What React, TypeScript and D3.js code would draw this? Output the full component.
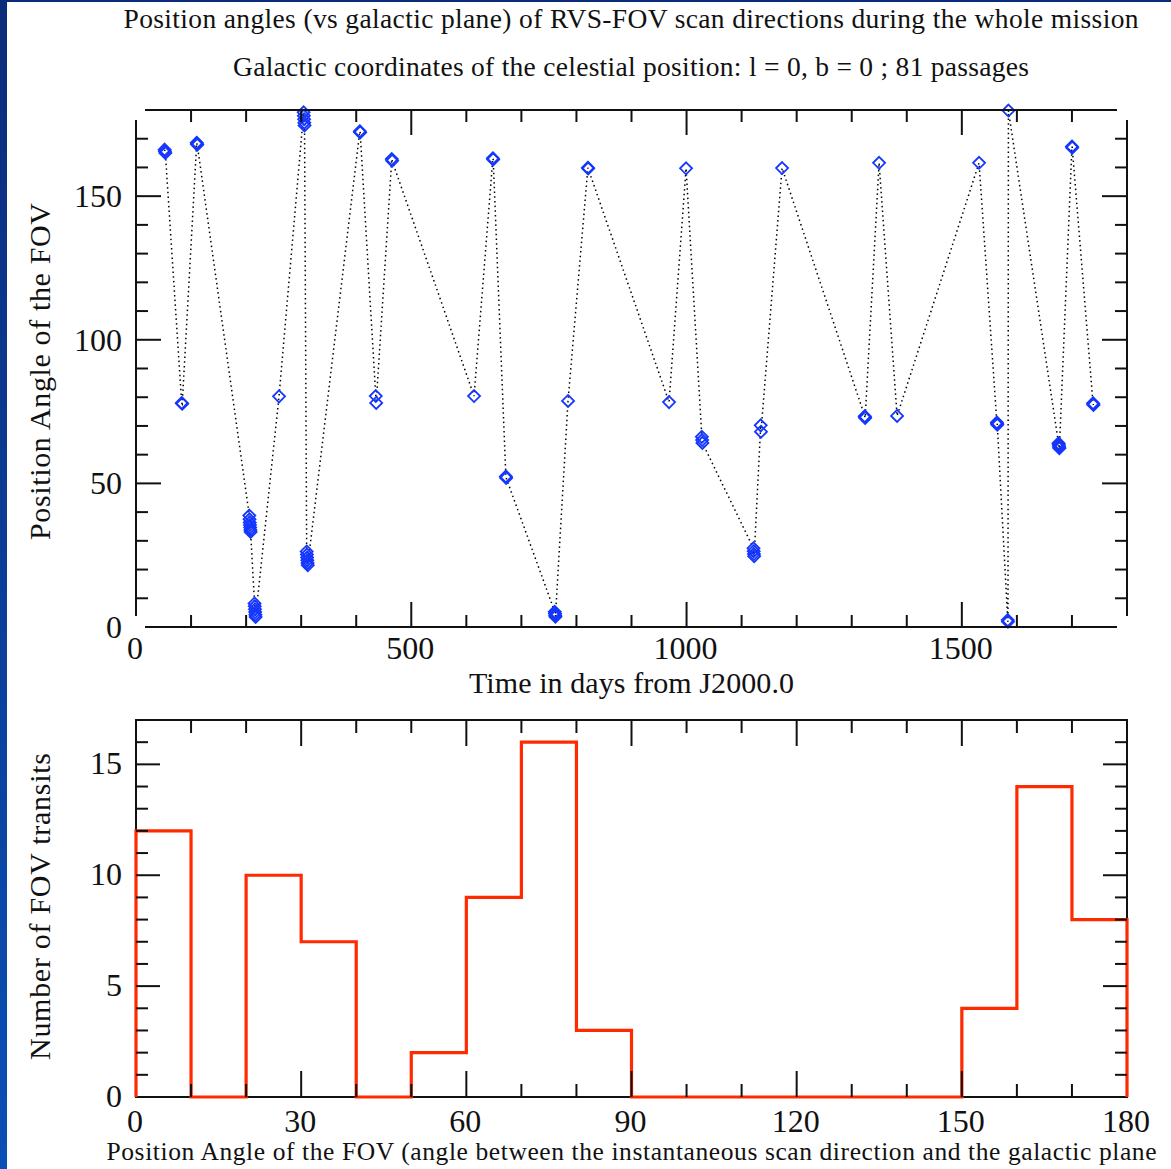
import React from "react";
import * as d3 from "d3";

// passages: time in days from J2000.0 and position angle of the FOV (deg)
const passageDays = [
  52.0, 52.5, 53.3, 83.0, 84.0, 110.3, 110.8, 111.3,
  205.8, 206.2, 206.6, 207.0, 207.4, 207.8, 208.2,
  215.3, 215.7, 216.1, 216.5, 216.9, 217.3, 259.8,
  304.5, 304.9, 305.3, 305.7, 306.1,
  310.0, 310.4, 310.8, 311.2, 311.6, 312.0,
  406.5, 407.2, 435.5, 436.3, 464.6, 465.3, 614.0,
  648.2, 648.8, 671.8, 672.4, 760.6, 761.0, 761.4, 761.8,
  784.7, 820.8, 821.3, 968.2, 999.1, 1027.8, 1028.3, 1028.8,
  1121.6, 1122.0, 1122.4, 1122.8, 1134.7, 1135.2, 1173.5,
  1323.6, 1324.0, 1324.4, 1349.7, 1382.4, 1531.3,
  1563.6, 1564.0, 1564.4, 1583.4, 1583.8, 1584.6,
  1675.6, 1676.0, 1676.4, 1676.8, 1677.2, 1700.0, 1700.5,
  1738.3, 1738.7, 1739.1,
];
const passageAngles = [
  166.2, 165.6, 165.0, 78.0, 77.7, 168.6, 168.2, 167.9,
  38.8, 37.5, 36.4, 35.5, 34.6, 33.8, 33.1,
  8.2, 7.2, 6.2, 5.2, 4.3, 3.5, 80.3,
  179.2, 178.0, 176.8, 175.6, 174.6,
  26.3, 25.2, 24.2, 23.2, 22.3, 21.5,
  172.6, 172.2, 80.4, 78.0, 162.9, 162.3, 80.4,
  163.2, 162.8, 52.4, 51.9, 5.3, 4.7, 4.1, 3.6,
  78.7, 159.9, 159.6, 78.3, 159.7, 66.2, 65.1, 64.1,
  27.4, 26.4, 25.4, 24.6, 70.2, 68.0, 159.8,
  73.4, 73.1, 72.8, 161.6, 73.5, 161.6,
  71.2, 70.8, 70.4, 2.4, 1.8, 179.8,
  64.0, 63.5, 63.0, 62.6, 62.2, 167.3, 166.9,
  77.9, 77.6, 77.3,
];

// histogram of position angles, 10 deg bins
const histEdges = d3.range(0, 190, 10);
const histCounts = [12, 0, 10, 7, 0, 2, 9, 16, 3, 0, 0, 0, 0, 0, 0, 4, 14, 8];

const timeTickLabels = [0, 500, 1000, 1500];
const angleTickLabels = [0, 50, 100, 150];
const histXTickLabels = [0, 30, 60, 90, 120, 150, 180];
const histYTickLabels = [0, 5, 10, 15];

const W = 1171;
const H = 1169;
const FONT = "'Liberation Serif', 'DejaVu Serif', serif";
const INK = "#111";
const BLUE = "#1436ff";
const RED = "#ff2a00";

const left = 136;
const right = 1127;

const xTime = d3.scaleLinear().domain([0, 1800]).range([left, right]);
const yAngle = d3.scaleLinear().domain([0, 180]).range([627, 110]);
const xHist = d3.scaleLinear().domain([0, 180]).range([left, right]);
const yHist = d3.scaleLinear().domain([0, 17]).range([1097, 720]);

const diamond = (x: number, y: number, r: number) =>
  `M${x},${y - r}L${x + r},${y}L${x},${y + r}L${x - r},${y}Z`;

const TopChart = () => {
  const y0 = yAngle(0);
  const y1 = yAngle(180);
  const pts = passageDays.map((d, i) => [xTime(d), yAngle(passageAngles[i])] as [number, number]);
  const line = d3.line()(pts) || "";
  const xTicks = d3.range(100, 1800, 100);
  const yTicks = d3.range(10, 180, 10);
  return (
    <g>
      <path d={line} fill="none" stroke="#000" strokeWidth={1.5} strokeDasharray="1.5 3.2" />
      {pts.map((p, i) => (
        <path key={i} d={diamond(p[0], p[1], 6)} fill="none" stroke={BLUE} strokeWidth={1.8} />
      ))}
      <g stroke={INK} strokeWidth={2}>
        <line x1={left + 9} x2={right - 10} y1={y0} y2={y0} />
        <line x1={left + 9} x2={right - 10} y1={y1} y2={y1} />
        <line x1={left} x2={left} y1={y1 + 10} y2={y0 - 11} />
        <line x1={right} x2={right} y1={y1 + 10} y2={y0 - 11} />
        {xTicks.map((t) => {
          const len = t % 500 === 0 ? 25 : 12;
          return (
            <g key={t}>
              <line x1={xTime(t)} x2={xTime(t)} y1={y0} y2={y0 - len} />
              <line x1={xTime(t)} x2={xTime(t)} y1={y1} y2={y1 + len} />
            </g>
          );
        })}
        {yTicks.map((t) => {
          const len = t % 50 === 0 ? 25 : 12;
          return (
            <g key={t}>
              <line x1={left} x2={left + len} y1={yAngle(t)} y2={yAngle(t)} />
              <line x1={right} x2={right - len} y1={yAngle(t)} y2={yAngle(t)} />
            </g>
          );
        })}
      </g>
      <g fontFamily={FONT} fill={INK} fontSize={32}>
        {angleTickLabels.map((t) => (
          <text key={t} x={left - 14} y={yAngle(t) + 11} textAnchor="end">
            {t}
          </text>
        ))}
        {timeTickLabels.map((t) => (
          <text key={t} x={xTime(t) - 1} y={659} textAnchor="middle">
            {t}
          </text>
        ))}
      </g>
      <text x={(left + right) / 2} y={693} textAnchor="middle" fontFamily={FONT} fontSize={30}
        fill={INK} textLength={325} lengthAdjust="spacing">
        Time in days from J2000.0
      </text>
      <text
        transform={`translate(50,${(y0 + y1) / 2 + 3}) rotate(-90)`}
        textAnchor="middle"
        fontFamily={FONT}
        fontSize={30}
        fill={INK}
        textLength={337}
        lengthAdjust="spacing"
      >
        Position Angle of the FOV
      </text>
    </g>
  );
};

const HistChart = () => {
  const y0 = yHist(0);
  const y1 = yHist(17);
  const steps: [number, number][] = [[xHist(0), yHist(0)]];
  histCounts.forEach((c, i) => {
    steps.push([xHist(histEdges[i]), yHist(c)]);
    steps.push([xHist(histEdges[i + 1]), yHist(c)]);
  });
  steps.push([xHist(180), yHist(0)]);
  const path = d3.line()(steps) || "";
  const xTicks = d3.range(10, 180, 10);
  const yTicks = d3.range(1, 17, 1);
  return (
    <g>
      <rect x={left} y={y1} width={right - left} height={y0 - y1} fill="none" stroke={INK} strokeWidth={2} />
      <path d={path} fill="none" stroke={RED} strokeWidth={3.2} strokeLinejoin="miter" />
      <g stroke={INK} strokeWidth={2}>
        {xTicks.map((t) => {
          const len = t % 30 === 0 ? 26 : 13;
          return (
            <g key={t}>
              <line x1={xHist(t)} x2={xHist(t)} y1={y0} y2={y0 - len} />
              <line x1={xHist(t)} x2={xHist(t)} y1={y1} y2={y1 + len} />
            </g>
          );
        })}
        {yTicks.map((t) => {
          const len = t % 5 === 0 ? 24 : 12;
          return (
            <g key={t}>
              <line x1={left} x2={left + len} y1={yHist(t)} y2={yHist(t)} />
              <line x1={right} x2={right - len} y1={yHist(t)} y2={yHist(t)} />
            </g>
          );
        })}
      </g>
      <g fontFamily={FONT} fill={INK} fontSize={32}>
        {histYTickLabels.map((t) => (
          <text key={t} x={left - 14} y={yHist(t) + 10} textAnchor="end">
            {t}
          </text>
        ))}
        {histXTickLabels.map((t) => (
          <text key={t} x={xHist(t) - 1} y={1132} textAnchor="middle">
            {t}
          </text>
        ))}
      </g>
      <text x={(left + right) / 2} y={1160} textAnchor="middle" fontFamily={FONT} fontSize={25.5}
        fill={INK} textLength={1050} lengthAdjust="spacing">
        Position Angle of the FOV (angle between the instantaneous scan direction and the galactic plane
      </text>
      <text
        transform={`translate(50,${(y0 + y1) / 2 - 2}) rotate(-90)`}
        textAnchor="middle"
        fontFamily={FONT}
        fontSize={30}
        fill={INK}
        textLength={307}
        lengthAdjust="spacing"
      >
        Number of FOV transits
      </text>
    </g>
  );
};

export default function App() {
  return (
    <svg
      width={W}
      height={H}
      viewBox={`0 0 ${W} ${H}`}
      style={{ position: "absolute", left: 0, top: 0, background: "#fff" }}
    >
      <defs>
        <linearGradient id="frame" x1="0" y1="0" x2="0" y2="1">
          <stop offset="0" stopColor="#0b2c7a" />
          <stop offset="1" stopColor="#0a4fb6" />
        </linearGradient>
      </defs>
      <rect x={0} y={0} width={W} height={H} fill="#fff" />
      <rect x={0} y={0} width={7} height={H} fill="url(#frame)" />
      <rect x={0} y={0} width={W} height={2} fill="#0b2c7a" />
      <text x={631} y={28} textAnchor="middle" fontFamily={FONT} fontSize={27.5} fill={INK}
        textLength={1015} lengthAdjust="spacing">
        Position angles (vs galactic plane) of RVS-FOV scan directions during the whole mission
      </text>
      <text x={631} y={76} textAnchor="middle" fontFamily={FONT} fontSize={27.5} fill={INK}
        textLength={796} lengthAdjust="spacing">
        Galactic coordinates of the celestial position: l = 0, b = 0 ; 81 passages
      </text>
      <TopChart />
      <HistChart />
    </svg>
  );
}
